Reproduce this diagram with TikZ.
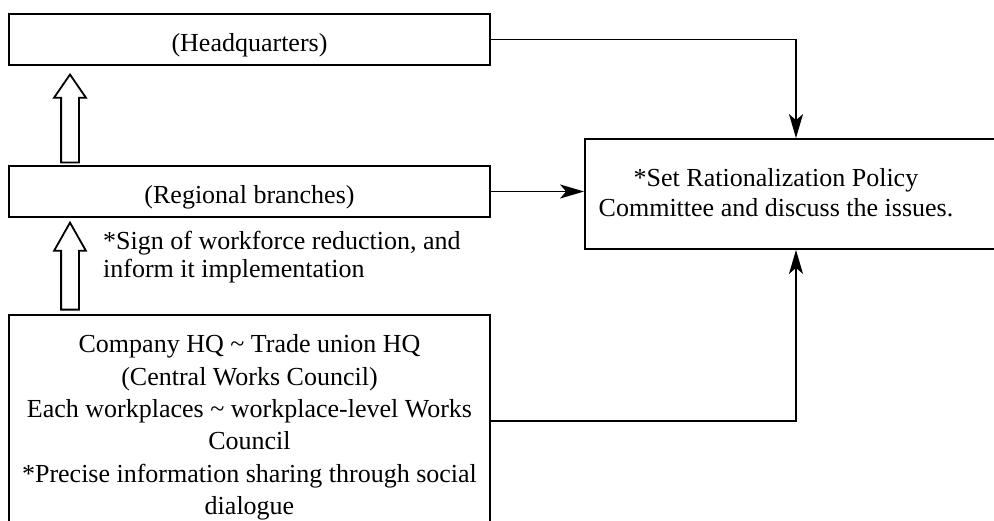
\documentclass[tikz,border=0pt]{standalone}
\usepackage{fontspec}
\setmainfont{Liberation Serif}
\usetikzlibrary{arrows.meta,calc,shapes.arrows}
\begin{document}
\begin{tikzpicture}[x=1pt,y=-1pt,
  txt/.style={font=\fontsize{26}{32.3}\selectfont},
  box/.style={draw, line width=1.8pt, inner sep=0pt, align=center, txt},
  link/.style={line width=1.8pt, -{Stealth[length=24pt,width=14pt,inset=6pt]}},
  hollowup/.style={single arrow, draw, line width=1.8pt, rotate=90,
    inner xsep=0pt, inner ysep=8pt,
    minimum width=30pt, single arrow head extend=7pt, single arrow head indent=0pt},
]
\useasboundingbox (0,0) rectangle (994,521);
\clip (0,0) rectangle (994,521);

% organisational levels
\node[box, minimum width=481pt, minimum height=51pt, text height=26pt, text depth=2pt]
  (hq) at (249.5,39.5) {(Headquarters)};
\node[box, minimum width=481pt, minimum height=51pt, text height=26pt, text depth=2pt]
  (reg) at (249.5,191.5) {(Regional branches)};
\node[box, minimum width=481pt, minimum height=225pt] (bot) at (249.5,427.5)
  {Company HQ \textasciitilde{} Trade union HQ\\
   (Central Works Council)\\
   Each workplaces \textasciitilde{} workplace-level Works\\
   Council\\
   *Precise information sharing through social\\
   dialogue};

% committee box (open to the right)
\node[draw, line width=1.8pt, minimum width=430pt, minimum height=110pt]
  (polbox) at (800,194) {};
\node[txt, align=center, inner sep=0pt] (pol) at (776,193)
  {*Set Rationalization Policy\\[-2.3pt]Committee and discuss the issues.};

% upward reporting arrows
\node[hollowup, minimum height=88pt, single arrow tip angle=69] (up1) at (70,125) {};
\node[hollowup, minimum height=87pt, single arrow tip angle=59] (up2) at (70,274) {};
\node[txt, align=left, inner sep=0pt, anchor=west] (sign) at (103,257)
  {*Sign of workforce reduction, and\\[-3.8pt]inform it implementation};

% connectors into the committee
\coordinate (jx) at (796,0);
\draw[link] (hq.east) -| (jx |- polbox.north);
\draw[link] (reg.east) -- (reg.east -| polbox.west);
\draw[link] ($(bot.north east)+(0,107)$) -| (jx |- polbox.south);
\end{tikzpicture}
\end{document}
